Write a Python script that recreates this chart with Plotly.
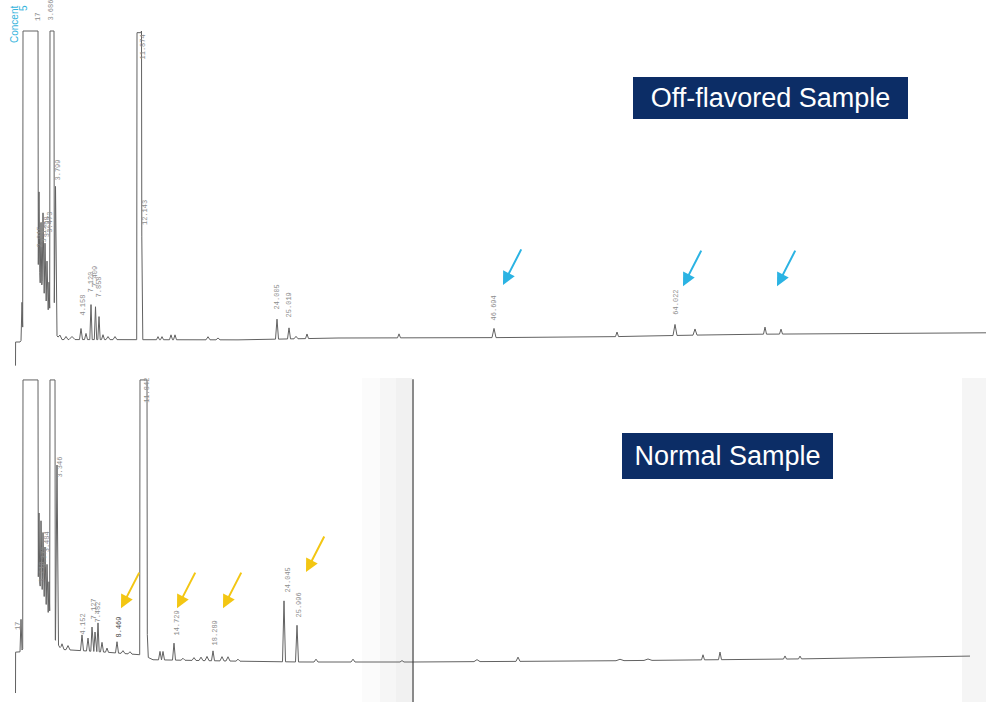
import numpy as np
import plotly.graph_objects as go

FS = 100.0  # recorder full scale (pen saturates)

# ---------------- Off-flavored sample (top chromatogram) ----------------
top_base_t = [-2.25, -2.24, -1.7, 2.5, 20, 30, 54, 60, 70, 80, 94.8]
top_base_y = [-9, -1.3, -1.3, -0.5, -0.6, 0, 0.2, 0.6, 1.2, 1.4, 1.7]
top_sat_start = [-1.5, 1.2, 9.9]
top_sat_end = [0.0, 1.6, 10.35]
top_peak_t = [-1.6, 0.2, 0.1, 0.3, 0.5, 0.7, 0.9, 1.1, 1.75, 2.2, 2.8, 3.4, 4.3, 4.8,
              5.3, 5.75, 6.1, 6.5, 7.0, 7.7, 10.38, 12.0, 12.4, 13.3, 13.7, 17.0, 18.0,
              23.9, 25.1, 25.8, 26.9, 36.1, 45.6, 57.9, 63.7, 65.7, 72.7, 74.3]
top_peak_h = [12, 9, 40, 30, 34, 25, 20, 14, 48, 1.5, 1, 1, 3.6, 2,
              11.4, 10.7, 7.5, 1.6, 1, 1, 33.5, 1, 1, 1.6, 1.6, 1, 0.6,
              6.5, 3.6, 0.8, 1.5, 1.3, 3.0, 1.5, 3.6, 2.0, 2.3, 1.6]
top_peak_w = [0.1, 2.0, 0.12, 0.12, 0.12, 0.12, 0.12, 0.12, 0.15, 0.2, 0.2, 0.3, 0.15, 0.15,
              0.12, 0.12, 0.12, 0.15, 0.2, 0.2, 0.1, 0.15, 0.15, 0.15, 0.15, 0.2, 0.2,
              0.15, 0.15, 0.2, 0.15, 0.15, 0.2, 0.15, 0.2, 0.2, 0.15, 0.15]
top_label_text = ["17", "3.686", "2.915", "3.134", "3.298", "3.473", "3.799", "4.158",
                  "7.120", "7.409", "7.858", "11.874", "12.143", "24.005", "25.019",
                  "46.694", "64.022"]
top_label_t = [0.0, 1.3, 0.2, 0.6, 0.9, 1.2, 2.0, 4.5, 5.3, 5.75, 6.1, 10.5, 10.7,
               23.9, 25.1, 45.6, 63.8]
top_label_y = [102.6, 102.6, 28.7, 30.3, 32.0, 33.5, 50.5, 6.5, 14.0, 16.0, 12.4, 89.9,
               36.0, 8.5, 5.9, 4.9, 6.8]
top_arrow_t = [46.5, 64.5, 73.9]
top_arrow_y = [17.3, 16.9, 16.9]

# ---------------- Normal sample (bottom chromatogram) ----------------
bot_base_t = [-2.25, -2.24, 2.2, 6.7, 10.5, 11.5, 20, 26.2, 37.5, 56.2, 76.2, 93.2]
bot_base_y = [-11, 3.5, 4.5, 3.5, 2.5, 0.8, 0.3, 0, 0, 0.4, 1.1, 2.1]
bot_sat_start = [-1.5, 1.2, 10.2]
bot_sat_end = [0.0, 1.7, 10.9]
bot_peak_t = [-1.7, 0.3, 0.1, 0.3, 0.5, 0.7, 0.9, 1.1, 1.9, 2.4, 3.0, 4.4, 5.0, 5.4,
              5.7, 6.0, 6.4, 6.9, 7.9, 8.5, 9.2, 10.93, 12.2, 12.5, 13.6, 14.5, 15.6,
              16.3, 16.9, 17.5, 18.4, 19.0, 20.0, 24.6, 25.9, 27.8, 31.5, 36.4, 43.9,
              48.0, 58.2, 61.0, 66.5, 68.2, 74.7, 76.2]
bot_peak_h = [11.5, 12, 38, 34, 31, 27, 22, 17, 63, 2, 1.5, 5.6, 4.6, 8.6,
              6.9, 10.2, 3.4, 1.5, 4, 1, 0.8, 8, 3, 3, 6, 0.7, 1,
              1.2, 1.5, 3.5, 1.5, 1.5, 0.7, 21.6, 13, 1, 1, 0.5, 0.7,
              1.5, 0.5, 0.5, 1.8, 2.7, 1.1, 1.0]
bot_peak_w = [0.1, 2.0, 0.12, 0.12, 0.12, 0.12, 0.12, 0.12, 0.15, 0.2, 0.2, 0.15, 0.15, 0.12,
              0.12, 0.12, 0.15, 0.15, 0.15, 0.2, 0.2, 0.1, 0.15, 0.15, 0.15, 0.2, 0.2,
              0.2, 0.2, 0.15, 0.2, 0.2, 0.2, 0.15, 0.15, 0.2, 0.2, 0.2, 0.3,
              0.2, 0.4, 0.4, 0.15, 0.15, 0.15, 0.15]
bot_label_text = ["17", "3.213", "3.372", "3.484", "3.346", "4.152", "7.127", "7.482",
                  "8.469", "11.842", "14.729", "18.289", "24.045", "25.996"]
bot_label_t = [-2.0, 0.3, 0.6, 0.9, 2.2, 4.5, 5.6, 6.0, 8.0, 10.9, 13.9, 17.7, 25.0, 26.1]
bot_label_y = [10.6, 27.3, 32.6, 38.0, 64.5, 8.9, 14.2, 13.1, 7.8, 91.0, 8.5, 5.0, 23.8, 14.9]
bot_arrow_t = [8.3, 13.9, 18.5, 26.8]
bot_arrow_y = [19.1, 19.1, 19.1, 31.9]

sample_titles = ["Off-flavored Sample", "Normal Sample"]


def render(base_t, base_y, sat_s, sat_e, pk_t, pk_h, pk_w, t_end):
    edge = 0.03
    pts = set(base_t)
    for t, w in zip(pk_t, pk_w):
        pts.update([t - w, t, t + w])
    for s, e in zip(sat_s, sat_e):
        pts.update([s - edge, s, e, e + edge])
    grid = np.array(sorted(p for p in pts if base_t[0] <= p <= t_end))
    y = np.interp(grid, base_t, base_y)
    for t, h, w in zip(pk_t, pk_h, pk_w):
        y = y + np.interp(grid, [t - w, t, t + w], [0, h, 0], left=0, right=0)
    for s, e in zip(sat_s, sat_e):
        y = y + np.interp(grid, [s - edge, s, e, e + edge], [0, FS, FS, 0], left=0, right=0)
    return grid, np.minimum(y, FS)


W, H = 986, 702
LINE = "#626262"

tx, ty = render(top_base_t, top_base_y, top_sat_start, top_sat_end,
                top_peak_t, top_peak_h, top_peak_w, top_base_t[-1])
bx, by = render(bot_base_t, bot_base_y, bot_sat_start, bot_sat_end,
                bot_peak_t, bot_peak_h, bot_peak_w, bot_base_t[-1])

fig = go.Figure()
fig.add_trace(go.Scatter(x=tx, y=ty, mode="lines", line=dict(color=LINE, width=1),
                         xaxis="x", yaxis="y", hoverinfo="skip"))
fig.add_trace(go.Scatter(x=bx, y=by, mode="lines", line=dict(color=LINE, width=1),
                         xaxis="x2", yaxis="y2", hoverinfo="skip"))

annotations = []
lab_font = dict(family="Liberation Mono", size=7, color="#8c8c8c")
for txt, t, yv in zip(top_label_text, top_label_t, top_label_y):
    annotations.append(dict(x=t, y=yv, xref="x", yref="y", text=txt, showarrow=False,
                            textangle=-90, xanchor="center", yanchor="bottom", font=lab_font))
for txt, t, yv in zip(bot_label_text, bot_label_t, bot_label_y):
    f = dict(lab_font)
    if txt == "8.469":
        f = dict(family="Liberation Mono", size=7, color="#444444")
    annotations.append(dict(x=t, y=yv, xref="x2", yref="y2", text=txt, showarrow=False,
                            textangle=-90, xanchor="center", yanchor="bottom", font=f))

for t, yv in zip(top_arrow_t, top_arrow_y):
    annotations.append(dict(x=t, y=yv, xref="x", yref="y", text="", showarrow=True,
                            ax=19, ay=-37, arrowhead=2, arrowsize=1.3, arrowwidth=2,
                            arrowcolor="#2bb3e3", standoff=0))
for t, yv in zip(bot_arrow_t, bot_arrow_y):
    annotations.append(dict(x=t, y=yv, xref="x2", yref="y2", text="", showarrow=True,
                            ax=19, ay=-37, arrowhead=2, arrowsize=1.3, arrowwidth=2,
                            arrowcolor="#f3c613", standoff=0))

# sample title boxes
annotations.append(dict(x=770.5 / W, y=1 - 98 / H, xref="paper", yref="paper",
                        text=sample_titles[0], showarrow=False, xanchor="center",
                        yanchor="middle", width=269, height=36, borderpad=2, borderwidth=1,
                        bordercolor="#0c2d66", bgcolor="#0c2d66",
                        font=dict(family="Liberation Sans", size=27, color="white")))
annotations.append(dict(x=727.5 / W, y=1 - 456 / H, xref="paper", yref="paper",
                        text=sample_titles[1], showarrow=False, xanchor="center",
                        yanchor="middle", width=205, height=40, borderpad=2, borderwidth=1,
                        bordercolor="#0c2d66", bgcolor="#0c2d66",
                        font=dict(family="Liberation Sans", size=27, color="white")))

# detector label (cyan, printed on the scan)
annotations.append(dict(x=14 / W, y=1 - 25 / H, xref="paper", yref="paper", text="Concent",
                        showarrow=False, textangle=-90, xanchor="center", yanchor="middle",
                        font=dict(family="Liberation Sans", size=10, color="#35b4dc")))
annotations.append(dict(x=23 / W, y=1 - 8 / H, xref="paper", yref="paper", text="5",
                        showarrow=False, textangle=-90, xanchor="center", yanchor="middle",
                        font=dict(family="Liberation Sans", size=10, color="#35b4dc")))

shapes = [
    # faint scan shading (soft band left of the page edge, and right margin)
    dict(type="rect", xref="paper", yref="paper", x0=362 / W, x1=380 / W, y0=0,
         y1=1 - 378 / H, fillcolor="#fbfbfb", line=dict(width=0), layer="below"),
    dict(type="rect", xref="paper", yref="paper", x0=380 / W, x1=396 / W, y0=0,
         y1=1 - 378 / H, fillcolor="#f6f6f6", line=dict(width=0), layer="below"),
    dict(type="rect", xref="paper", yref="paper", x0=396 / W, x1=412 / W, y0=0,
         y1=1 - 378 / H, fillcolor="#f1f1f1", line=dict(width=0), layer="below"),
    dict(type="rect", xref="paper", yref="paper", x0=962 / W, x1=1, y0=0,
         y1=1 - 378 / H, fillcolor="#f5f5f5", line=dict(width=0), layer="below"),
    # page edge line in the lower scan
    dict(type="line", xref="x2", yref="y2 domain", x0=37.5, x1=37.5, y0=0, y1=0.99,
         line=dict(color="#3c3c3c", width=1.2)),
]

axis_common = dict(visible=False, showgrid=False, zeroline=False, fixedrange=True)
fig.update_layout(
    width=W, height=H,
    margin=dict(l=0, r=0, t=0, b=0),
    paper_bgcolor="white", plot_bgcolor="rgba(0,0,0,0)",
    showlegend=False,
    xaxis=dict(domain=[12 / W, 1], range=[-2.6, 94.8], anchor="y", **axis_common),
    yaxis=dict(domain=[1 - 372 / H, 1], range=[-11.07, 110.1], anchor="x", **axis_common),
    xaxis2=dict(domain=[12 / W, 1], range=[-2.6, 94.8], anchor="y2", **axis_common),
    yaxis2=dict(domain=[0, 1 - 376 / H], range=[-14.18, 101.4], anchor="x2", **axis_common),
    annotations=annotations,
    shapes=shapes,
)

fig.write_html("out.html", config={"displayModeBar": False},
               post_script="document.body.style.margin='0';document.body.style.overflow='hidden';")
